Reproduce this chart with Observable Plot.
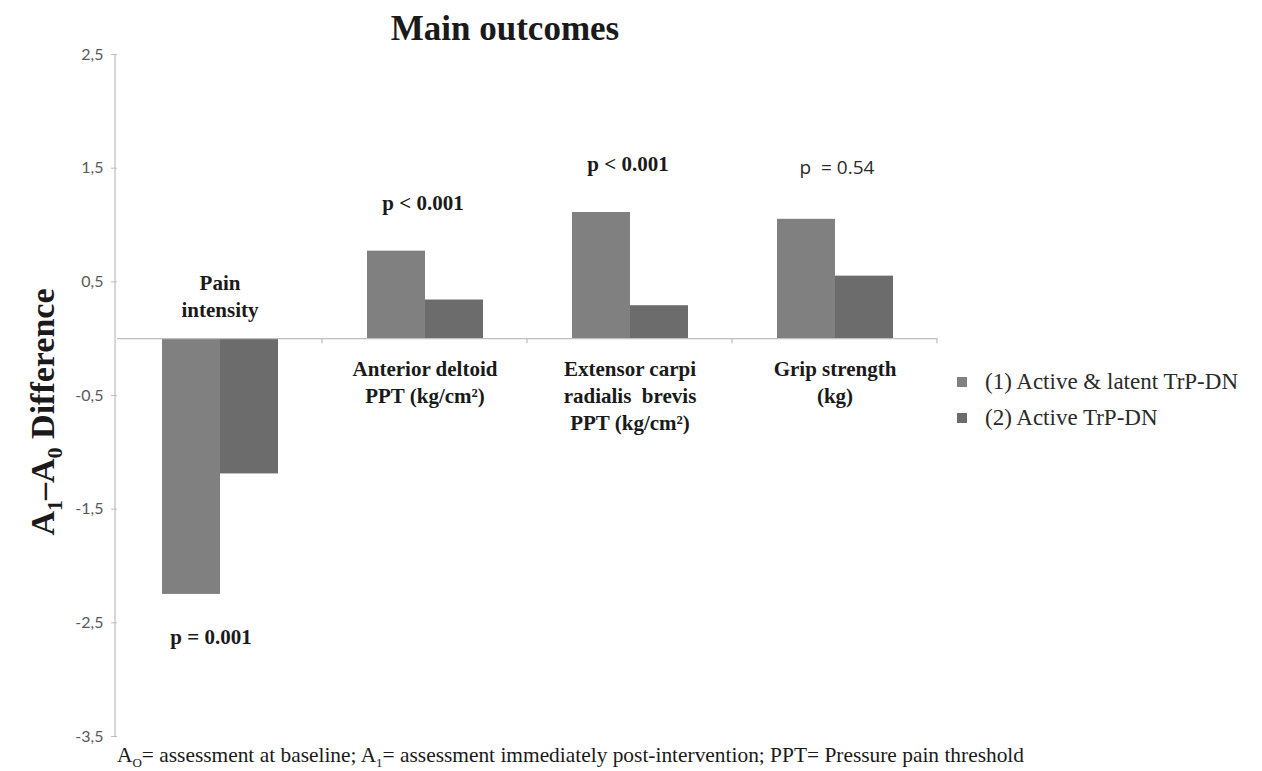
<!DOCTYPE html>
<html><head><meta charset="utf-8">
<script src="https://cdn.jsdelivr.net/npm/d3@7"></script>
<script src="https://cdn.jsdelivr.net/npm/@observablehq/plot@0.6"></script>
<style>
body{margin:0;background:#fff;}
#wrap{position:relative;width:1262px;height:771px;overflow:hidden;}
#wrap svg{position:absolute;left:0;top:0;}
#title{position:absolute;left:505px;top:9px;transform:translateX(-50%);font:bold 35px "Liberation Serif",serif;color:#1a1a1a;white-space:nowrap;}
#ylabel{position:absolute;left:46px;top:412px;transform:translate(-50%,-50%) rotate(-90deg);font:bold 34px "Liberation Serif",serif;color:#1a1a1a;white-space:nowrap;}
#ylabel sub{font-size:22px;}
#legend{position:absolute;left:957px;top:364px;font:23px "Liberation Serif",serif;color:#2a2a2a;}
#legend .row{display:flex;align-items:center;height:36px;}
#legend .sw{width:10px;height:10px;margin-right:18px;}
#caption{position:absolute;left:117px;top:743px;font:21.4px "Liberation Serif",serif;color:#1a1a1a;white-space:nowrap;}
#caption sub{font-size:13px;}
</style></head><body>
<div id="wrap">
<div id="title">Main outcomes</div>
<div id="ylabel">A<sub>1</sub>–A<sub>0</sub> Difference</div>
<div id="legend"></div>
<div id="caption">A<sub>O</sub>= assessment at baseline; A<sub>1</sub>= assessment immediately post-intervention; PPT= Pressure pain threshold</div>
</div>
<script>
const categories = ["Pain intensity", "Anterior deltoid PPT", "Extensor carpi radialis brevis PPT", "Grip strength"];
const categoryLabels = ["Pain\nintensity", "Anterior deltoid\nPPT (kg/cm²)", "Extensor carpi\nradialis  brevis\nPPT (kg/cm²)", "Grip strength\n(kg)"];
const seriesNames = ["(1) Active & latent TrP-DN", "(2) Active TrP-DN"];
const activeLatent = [-2.25, 0.77, 1.11, 1.05];
const activeOnly = [-1.19, 0.34, 0.29, 0.55];
const pValues = ["p = 0.001", "p < 0.001", "p < 0.001", "p  = 0.54"];
const yTicks = [2.5, 1.5, 0.5, -0.5, -1.5, -2.5, -3.5];
const colors = ["#808080", "#6c6c6c"];

const rows = [];
categories.forEach((c, i) => {
  rows.push({category: c, series: seriesNames[0], value: activeLatent[i]});
  rows.push({category: c, series: seriesNames[1], value: activeOnly[i]});
});
const groups = categories.map((c, i) => ({
  category: c, label: categoryLabels[i], p: pValues[i],
  extreme: Math.abs(activeLatent[i]) > Math.abs(activeOnly[i]) ? activeLatent[i] : activeOnly[i],
  boldSerif: !pValues[i].includes("0.54")
}));

const serif = "Liberation Serif";
const labelStyle = {fontFamily: serif, fontWeight: "bold", fontSize: 21, lineHeight: 1.28, fill: "#1a1a1a"};
const chart = Plot.plot({
  width: 1262, height: 771,
  marginLeft: 115, marginRight: 324, marginTop: 54, marginBottom: 35,
  fx: {domain: categories, padding: 0, axis: null},
  x: {domain: seriesNames, paddingInner: 0, paddingOuter: 0.744, axis: null},
  y: {domain: [-3.5, 2.5], axis: null},
  color: {domain: seriesNames, range: colors},
  style: {background: "transparent"},
  marks: [
    Plot.barY(rows, {fx: "category", x: "series", y: "value", fill: "series"}),
    Plot.ruleY([0], {stroke: "#bdbdbd", strokeWidth: 1.2}),
    Plot.axisY({ticks: yTicks, tickSize: 6, tickPadding: 8, stroke: "#bfbfbf", color: "#595959",
      fontSize: 16, fontFamily: "Lato", label: null,
      tickFormat: d => d3.format(".1f")(d).replace(".", ",").replace("−", "-")}),
    Plot.text(groups.filter(d => d.extreme < 0), {fx: "category", y: 0, text: "label", lineAnchor: "bottom", dy: -22, ...labelStyle}),
    Plot.text(groups.filter(d => d.extreme >= 0), {fx: "category", y: 0, text: "label", lineAnchor: "top", dy: 18, ...labelStyle}),
    Plot.text(groups.filter(d => d.boldSerif && d.extreme < 0), {fx: "category", y: "extreme", text: "p", dy: 43, dx: -9,
      fontFamily: serif, fontWeight: "bold", fontSize: 21, fill: "#1a1a1a"}),
    Plot.text(groups.filter(d => d.boldSerif && d.extreme >= 0), {fx: "category", y: "extreme", text: "p", dy: -48, dx: -2,
      fontFamily: serif, fontWeight: "bold", fontSize: 21, fill: "#1a1a1a"}),
    Plot.text(groups.filter(d => !d.boldSerif), {fx: "category", y: "extreme", text: "p", dy: -51, dx: 2,
      fontFamily: "Open Sans", fontSize: 19, fill: "#2a2a2a"})
  ]
});
document.getElementById("wrap").appendChild(chart);

const ys = chart.scale("y");
const fx = chart.scale("fx");
const svg = d3.select(chart);
const y0 = ys.apply(0);
const g = svg.append("g").attr("stroke", "#bdbdbd").attr("stroke-width", 1.2);
g.append("line").attr("x1", 115).attr("x2", 115).attr("y1", ys.apply(2.5)).attr("y2", ys.apply(-3.5));
categories.forEach(c => {
  const xr = fx.apply(c) + fx.bandwidth;
  g.append("line").attr("x1", xr).attr("x2", xr).attr("y1", y0).attr("y2", y0 + 5);
});

const leg = document.getElementById("legend");
seriesNames.forEach((s, i) => {
  const r = document.createElement("div"); r.className = "row";
  r.innerHTML = `<span class="sw" style="background:${colors[i]}"></span><span>${s.replace("&", "&amp;")}</span>`;
  leg.appendChild(r);
});
</script>
</body></html>
